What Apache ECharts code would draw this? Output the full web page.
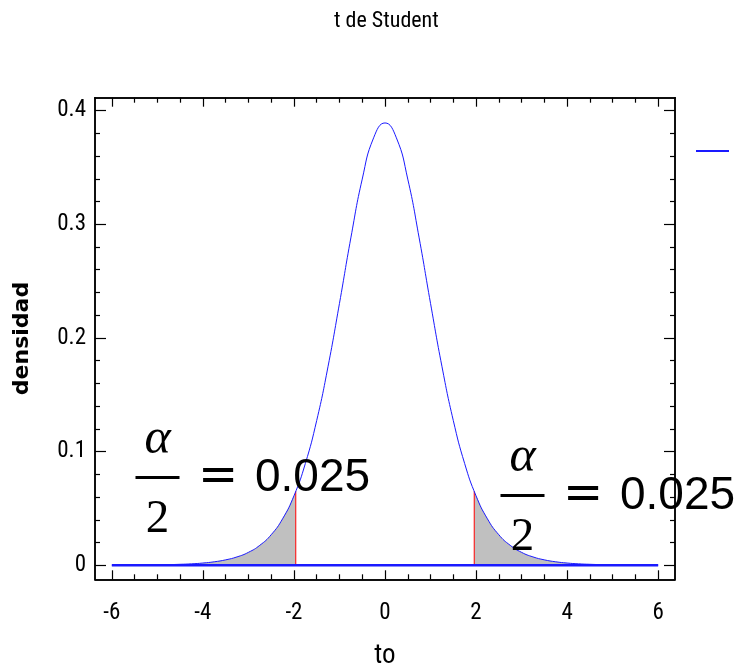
<!DOCTYPE html>
<html><head><meta charset="utf-8">
<script src="https://cdn.jsdelivr.net/npm/echarts@6/dist/echarts.min.js"></script>
<style>html,body{margin:0;padding:0;background:#fff}#c{width:744px;height:664px}</style>
</head><body><div id="c"></div>
<script>
const titleText = 't de Student';
const xName = 'to';
const yName = 'densidad';
const seriesName = 'densidad t';
const tValues = [-6,-5.75,-5.5,-5.25,-5,-4.75,-4.5,-4.25,-4,-3.75,-3.5,-3.25,-3,-2.75,-2.5,-2.25,-2,-1.75,-1.5,-1.25,-1,-0.75,-0.5,-0.25,0,
  0.25,0.5,0.75,1,1.25,1.5,1.75,2,2.25,2.5,2.75,3,3.25,3.5,3.75,4,4.25,4.5,4.75,5,5.25,5.5,5.75,6];
const density = [0.00009,0.00013,0.00018,0.00027,0.0004,0.0006,0.0009,0.0013,0.0020,0.0031,0.0048,0.0074,0.0114,0.0176,0.0269,0.0409,0.0611,0.0895,0.1274,0.1751,0.2304,0.2880,0.3397,0.3760,0.3891,
  0.3760,0.3397,0.2880,0.2304,0.1751,0.1274,0.0895,0.0611,0.0409,0.0269,0.0176,0.0114,0.0074,0.0048,0.0031,0.0020,0.0013,0.0009,0.0006,0.0004,0.00027,0.00018,0.00013,0.00009];
const criticalT = [-1.96, 1.96];
const criticalDensity = [0.0651, 0.0651];
const xTickLabels = [-6,-4,-2,0,2,4,6];
const xMinorTicks = [-5.5,-5,-4.5,-3.5,-3,-2.5,-1.5,-1,-0.5,0.5,1,1.5,2.5,3,3.5,4.5,5,5.5];
const yTickLabels = [0,0.1,0.2,0.3,0.4];
const yMinorTicks = [0.02,0.04,0.06,0.08,0.12,0.14,0.16,0.18,0.22,0.24,0.26,0.28,0.32,0.34,0.36,0.38];
const alphaLabel = 'α';
const denomLabel = '2';
const eqLabel = '=';
const valueLabel = '0.025';

const narrow = '"Liberation Sans Narrow","Arial Narrow","Roboto Condensed","Liberation Sans",sans-serif';
const BLUE = '#1a1aff';
const pairs = tValues.map((t, i) => [t, density[i]]);
const leftTail = pairs.filter(p => p[0] <= criticalT[0]).concat([[criticalT[0], criticalDensity[0]]]);
const rightTail = [[criticalT[1], criticalDensity[1]]].concat(pairs.filter(p => p[0] >= criticalT[1]));
const XMIN = -6.37, XMAX = 6.37, YMIN = -0.0123, YMAX = 0.4113;
const axisLineStyle = {show: true, onZero: false, lineStyle: {color: '#000', width: 1.5}};
function xAx(pos, vals, len, labels, extra) {
  return Object.assign({type: 'value', position: pos, min: XMIN, max: XMAX,
    axisLine: axisLineStyle, splitLine: {show: false},
    axisTick: {show: true, inside: true, length: len, customValues: vals, lineStyle: {color: '#000', width: 1.2}},
    axisLabel: labels ? {show: true, customValues: vals, margin: 22, fontFamily: narrow, fontSize: 23, color: '#000'} : {show: false}
  }, extra || {});
}
function yAx(pos, vals, len, labels, extra) {
  return Object.assign({type: 'value', position: pos, min: YMIN, max: YMAX,
    axisLine: axisLineStyle, splitLine: {show: false},
    axisTick: {show: true, inside: true, length: len, customValues: vals, lineStyle: {color: '#000', width: 1.2}},
    axisLabel: labels ? {show: true, customValues: vals, margin: 9, fontFamily: narrow, fontSize: 23, color: '#000'} : {show: false}
  }, extra || {});
}
const chart = echarts.init(document.getElementById('c'), null, {renderer: 'canvas'});
const option = {
  animation: false,
  backgroundColor: '#fff',
  title: {text: titleText, left: 329, top: 5, textStyle: {fontFamily: narrow, fontSize: 22, fontWeight: 'normal', color: '#000'}},
  grid: {left: 95, right: 69, top: 97.7, bottom: 84.7, containLabel: false, outerBoundsMode: 'none'},
  legend: {data: [seriesName], left: 696, top: 150, padding: 0, icon: 'rect', itemWidth: 33, itemHeight: 2,
    formatter: () => '', itemStyle: {color: BLUE}, selectedMode: false},
  xAxis: [
    xAx('bottom', xTickLabels, 9, true, {name: xName, nameLocation: 'middle', nameGap: 63,
      nameTextStyle: {fontFamily: narrow, fontSize: 27, color: '#000'}}),
    xAx('bottom', xMinorTicks, 5, false),
    xAx('top', xTickLabels, 9, false),
    xAx('top', xMinorTicks, 5, false)
  ],
  yAxis: [
    yAx('left', yTickLabels, 11, true, {name: yName, nameLocation: 'middle', nameGap: 62,
      nameTextStyle: {fontFamily: '"DejaVu Sans",sans-serif', fontSize: 22, fontWeight: 'bold', color: '#000'}}),
    yAx('left', yMinorTicks, 5, false),
    yAx('right', yTickLabels, 11, false),
    yAx('right', yMinorTicks, 5, false)
  ],
  series: [
    {type: 'line', name: 'tailL', data: leftTail, smooth: true, showSymbol: false, lineStyle: {width: 0},
      areaStyle: {color: '#c0c0c0', opacity: 1}, z: 1, silent: true},
    {type: 'line', name: 'tailR', data: rightTail, smooth: true, showSymbol: false, lineStyle: {width: 0},
      areaStyle: {color: '#c0c0c0', opacity: 1}, z: 1, silent: true},
    {type: 'line', name: 'critL', data: [[criticalT[0], 0], [criticalT[0], criticalDensity[0]]], showSymbol: false,
      lineStyle: {color: '#ff0000', width: 1}, z: 2},
    {type: 'line', name: 'critR', data: [[criticalT[1], 0], [criticalT[1], criticalDensity[1]]], showSymbol: false,
      lineStyle: {color: '#ff0000', width: 1}, z: 2},
    {type: 'line', name: seriesName, data: pairs, smooth: true, showSymbol: false,
      lineStyle: {color: BLUE, width: 1}, itemStyle: {color: BLUE}, z: 3},
    {type: 'line', name: 'base', data: [[tValues[0], 0], [tValues[tValues.length - 1], 0]], showSymbol: false,
      lineStyle: {color: BLUE, width: 2.5}, z: 4}
  ]
};
chart.setOption(option);

function frac(cx, cy, eqX, valX) {
  const serif = '"Liberation Serif","DejaVu Serif",serif';
  return [
    {type: 'text', x: cx, y: cy - 38, z: 100, style: {text: alphaLabel, font: 'italic 50px ' + serif, fill: '#000', align: 'center', verticalAlign: 'middle'}},
    {type: 'rect', shape: {x: cx - 22, y: cy - 1.5, width: 44, height: 3}, z: 100, style: {fill: '#000'}},
    {type: 'text', x: cx, y: cy + 42, z: 100, style: {text: denomLabel, font: '47px ' + serif, fill: '#000', align: 'center', verticalAlign: 'middle'}},
    {type: 'text', x: eqX, y: cy, z: 100, style: {text: eqLabel, font: '48px "DejaVu Sans",sans-serif', fill: '#000', align: 'center', verticalAlign: 'middle'}},
    {type: 'text', x: valX, y: cy + 1, z: 100, style: {text: valueLabel, font: '46px "Liberation Sans",Arial,sans-serif', fill: '#000', align: 'left', verticalAlign: 'middle'}}
  ];
}
chart.setOption({graphic: {elements: frac(157.5, 477.5, 218, 255).concat(frac(522.5, 495.5, 583, 620))}});
</script></body></html>
